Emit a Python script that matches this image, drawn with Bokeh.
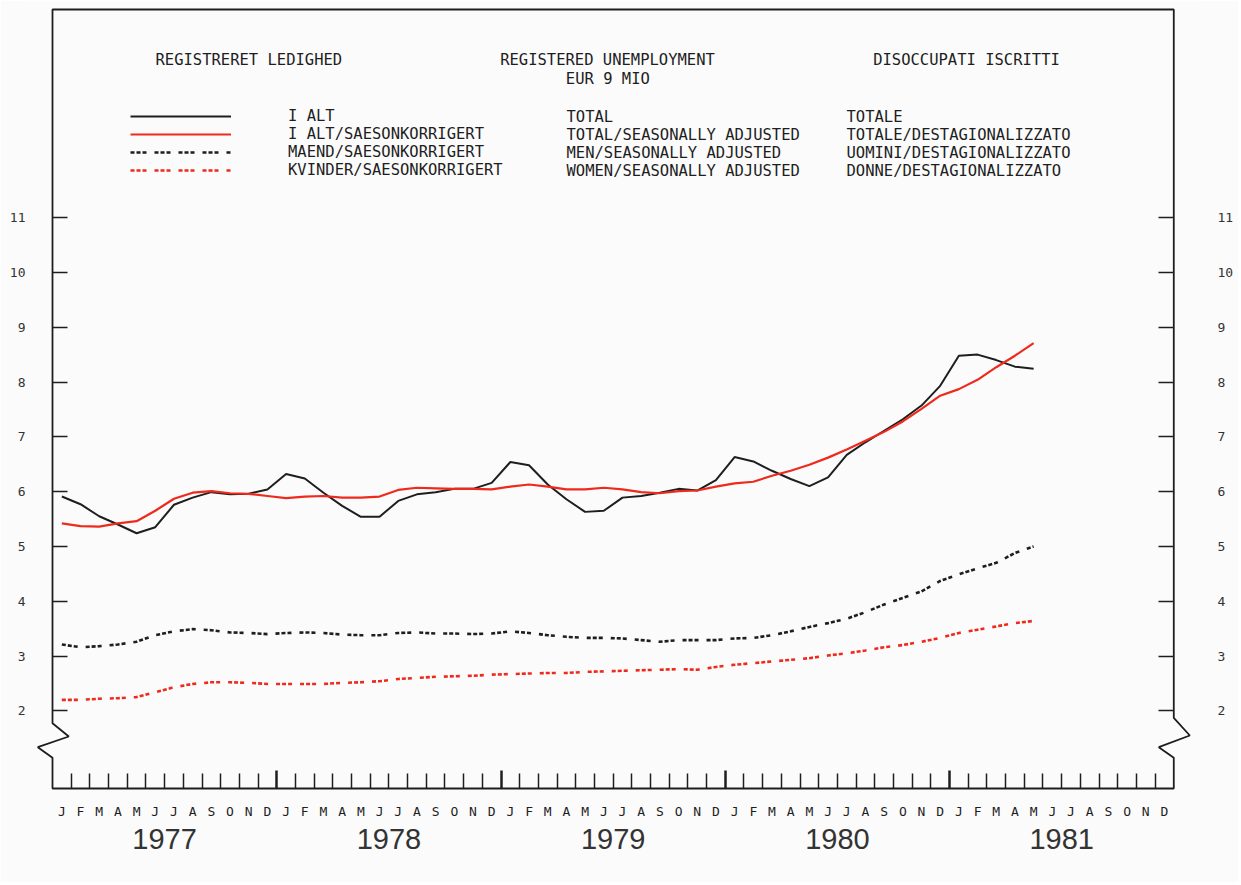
from bokeh.plotting import figure
from bokeh.models import (Range1d, LinearAxis, FixedTicker, PolyAnnotation,
                          Legend, LegendItem, ColumnDataSource)
from bokeh.core.properties import value
from bokeh.embed import file_html
from bokeh.resources import INLINE

# ---------------- data ----------------
years = ["1977", "1978", "1979", "1980", "1981"]
month_letters = ["J", "F", "M", "A", "M", "J", "J", "A", "S", "O", "N", "D"]
y_ticks = [2, 3, 4, 5, 6, 7, 8, 9, 10, 11]

# millions, Jan 1977 .. May 1981
total = [5.91, 5.77, 5.55, 5.40, 5.24, 5.35, 5.76, 5.89, 5.99, 5.95, 5.96, 6.04,
         6.32, 6.24, 5.98, 5.74, 5.54, 5.54, 5.83, 5.95, 5.99, 6.05, 6.05, 6.16,
         6.54, 6.48, 6.13, 5.86, 5.63, 5.65, 5.89, 5.92, 5.98, 6.05, 6.02, 6.21,
         6.63, 6.55, 6.38, 6.23, 6.10, 6.26, 6.67, 6.90, 7.11, 7.32, 7.57, 7.93,
         8.48, 8.50, 8.40, 8.28, 8.24]
total_sa = [5.42, 5.37, 5.36, 5.42, 5.46, 5.65, 5.87, 5.98, 6.01, 5.97, 5.96, 5.92,
            5.88, 5.91, 5.92, 5.89, 5.89, 5.91, 6.03, 6.07, 6.06, 6.05, 6.05, 6.04,
            6.09, 6.13, 6.09, 6.04, 6.04, 6.07, 6.04, 5.99, 5.97, 6.01, 6.02, 6.09,
            6.15, 6.18, 6.29, 6.38, 6.49, 6.62, 6.77, 6.93, 7.09, 7.28, 7.51, 7.75,
            7.87, 8.04, 8.27, 8.48, 8.71]
men_sa = [3.21, 3.16, 3.18, 3.21, 3.26, 3.38, 3.45, 3.49, 3.47, 3.43, 3.42, 3.40,
          3.42, 3.43, 3.42, 3.39, 3.38, 3.38, 3.42, 3.43, 3.41, 3.41, 3.40, 3.41,
          3.45, 3.42, 3.38, 3.35, 3.33, 3.33, 3.32, 3.29, 3.26, 3.29, 3.29, 3.29,
          3.32, 3.33, 3.38, 3.45, 3.53, 3.60, 3.68, 3.80, 3.94, 4.06, 4.18, 4.37,
          4.49, 4.60, 4.70, 4.88, 5.00]
women_sa = [2.20, 2.20, 2.22, 2.23, 2.25, 2.34, 2.43, 2.49, 2.52, 2.52, 2.51, 2.49,
            2.49, 2.49, 2.49, 2.51, 2.52, 2.54, 2.58, 2.60, 2.62, 2.63, 2.64, 2.66,
            2.67, 2.68, 2.69, 2.69, 2.71, 2.72, 2.73, 2.74, 2.75, 2.76, 2.75, 2.80,
            2.84, 2.87, 2.90, 2.93, 2.96, 3.01, 3.05, 3.10, 3.16, 3.20, 3.26, 3.33,
            3.42, 3.48, 3.54, 3.60, 3.64]

labels_dk = ["I ALT", "I ALT/SAESONKORRIGERT", "MAEND/SAESONKORRIGERT", "KVINDER/SAESONKORRIGERT"]
labels_en = ["TOTAL", "TOTAL/SEASONALLY ADJUSTED", "MEN/SEASONALLY ADJUSTED", "WOMEN/SEASONALLY ADJUSTED"]
labels_it = ["TOTALE", "TOTALE/DESTAGIONALIZZATO", "UOMINI/DESTAGIONALIZZATO", "DONNE/DESTAGIONALIZZATO"]
title_dk = "REGISTRERET LEDIGHED"
title_en = "REGISTERED UNEMPLOYMENT"
subtitle_en = "EUR 9  MIO"
title_it = "DISOCCUPATI ISCRITTI"

# ---------------- layout helpers ----------------
n_months = 12 * len(years)
x_mid = [k + 0.5 for k in range(len(total))]
INK = "#1e1e1e"
RED = "#ee2a1c"
MONO = "DejaVu Sans Mono"
W, H = 1238, 882
F_LEFT, F_RIGHT, F_TOP, F_BOTTOM = 30, 1196, 5, 790   # plot frame in screen px

def dx(px):   # screen pixel -> month units
    return (px - 52) / 18.688

def dy(py):   # screen pixel -> value units
    return 2 + (710.3 - py) / 54.8

p = figure(width=W, height=H, output_backend="svg", toolbar_location=None,
           x_range=Range1d(dx(F_LEFT), dx(F_RIGHT)), y_range=Range1d(dy(F_BOTTOM), dy(F_TOP)),
           x_axis_type=None, y_axis_type=None,
           min_border_left=F_LEFT, min_border_right=W - F_RIGHT,
           min_border_top=F_TOP, min_border_bottom=H - F_BOTTOM,
           background_fill_color="#fbfbfb", border_fill_color="#fbfbfb",
           outline_line_color=None)

Y_TOP, Y_BOT = dy(9), dy(788)

# frame with axis breaks (zig-zags)
frame = PolyAnnotation(
    xs=[0, 0, dx(68.3), dx(37.3), 0, 0, n_months, n_months, dx(1158.3), dx(1189.3), n_months, n_months],
    ys=[Y_TOP, dy(722.7), dy(736), dy(746.7), dy(757.3), Y_BOT, Y_BOT, dy(757.3), dy(746.7), dy(735), dy(717.3), Y_TOP],
    xs_units="data", ys_units="data", fill_alpha=0, line_alpha=1,
    line_color=INK, line_width=1.8)
p.add_layout(frame)

# y axes: tick axes fixed at the frame lines, label axes at the plot edge
def ytick_axis(loc):
    return LinearAxis(ticker=FixedTicker(ticks=y_ticks), fixed_location=loc,
                      major_tick_in=15, major_tick_out=0, minor_tick_in=0, minor_tick_out=0,
                      axis_line_color=None, major_tick_line_color=INK, major_tick_line_width=1.5,
                      major_label_text_font_size="0px", major_label_text_alpha=0,
                      major_label_standoff=0)

def ylabel_axis(standoff):
    return LinearAxis(ticker=FixedTicker(ticks=y_ticks), major_tick_in=0, major_tick_out=0,
                      minor_tick_in=0, minor_tick_out=0, axis_line_color=None,
                      major_label_standoff=standoff, major_label_text_font=MONO,
                      major_label_text_font_size="13px", major_label_text_color="#333333")

p.add_layout(ytick_axis(0), "left")
p.add_layout(ylabel_axis(5), "left")
p.add_layout(ytick_axis(n_months), "right")
p.add_layout(ylabel_axis(21), "right")

# x axis: ticks at month boundaries, longer at year boundaries
year_bounds = [12 * i for i in range(1, len(years))]
month_bounds = [k for k in range(1, n_months) if k % 12 != 0]
xt = LinearAxis(ticker=FixedTicker(ticks=year_bounds, minor_ticks=month_bounds),
                fixed_location=Y_BOT,
                major_tick_in=18, major_tick_out=0, minor_tick_in=15, minor_tick_out=0,
                major_tick_line_color=INK, major_tick_line_width=2.5,
                minor_tick_line_color=INK, minor_tick_line_width=1.5,
                axis_line_color=None, major_label_text_font_size="0px",
                major_label_text_alpha=0, major_label_standoff=0)
p.add_layout(xt, "below")

month_centers = [k + 0.5 for k in range(n_months)]
xm = LinearAxis(ticker=FixedTicker(ticks=month_centers),
                major_label_overrides={c: month_letters[i % 12] for i, c in enumerate(month_centers)},
                major_tick_in=0, major_tick_out=0, minor_tick_in=0, minor_tick_out=0,
                axis_line_color=None, major_label_standoff=13,
                major_label_text_font=MONO, major_label_text_font_size="13px",
                major_label_text_color=INK)
p.add_layout(xm, "below")

year_centers = [12 * i + 6 for i in range(len(years))]
xy = LinearAxis(ticker=FixedTicker(ticks=year_centers),
                major_label_overrides={c: years[i] for i, c in enumerate(year_centers)},
                major_tick_in=0, major_tick_out=0, minor_tick_in=0, minor_tick_out=0,
                axis_line_color=None, major_label_standoff=7,
                major_label_text_font="Liberation Sans", major_label_text_font_size="29px",
                major_label_text_color="#333333")
p.add_layout(xy, "below")

# series
r_total = p.line(x_mid, total, line_color=INK, line_width=2)
r_sa = p.line(x_mid, total_sa, line_color=RED, line_width=2.2)
r_men = p.line(x_mid, men_sa, line_color=INK, line_width=2.6, line_dash="4 2 4 2 4 8")
r_women = p.line(x_mid, women_sa, line_color=RED, line_width=2.6, line_dash="4 2 4 2 4 8")

legend = Legend(items=[LegendItem(label=labels_dk[i], renderers=[r])
                       for i, r in enumerate([r_total, r_sa, r_men, r_women])],
                location=(130 - F_LEFT, F_BOTTOM - 179), glyph_width=101, glyph_height=18,
                label_height=18, label_standoff=57, spacing=0, padding=0, margin=0,
                border_line_color=None, background_fill_alpha=0,
                label_text_font=MONO, label_text_font_size="15.5px", label_text_color=INK)
p.add_layout(legend)

rows_y = [dy(116), dy(134), dy(152), dy(170)]
txt = ColumnDataSource(dict(x=[dx(566)] * 4 + [dx(846)] * 4, y=rows_y * 2,
                            t=labels_en + labels_it))
p.text("x", "y", text="t", source=txt, text_font=value(MONO), text_font_size="15.5px",
       text_color=INK, text_align="left", text_baseline="middle")

p.text([dx(155)], [dy(59)], text=[title_dk], text_font=value(MONO), text_font_size="15.5px",
       text_color=INK, text_align="left", text_baseline="middle")
p.text([dx(607), dx(612)], [dy(59), dy(78)], text=[title_en, subtitle_en], text_font=value(MONO),
       text_font_size="15.5px", text_color=INK, text_align="center", text_baseline="middle")
p.text([dx(966)], [dy(59)], text=[title_it], text_font=value(MONO), text_font_size="15.5px",
       text_color=INK, text_align="center", text_baseline="middle")

open("out.html", "w").write(file_html(p, INLINE))
